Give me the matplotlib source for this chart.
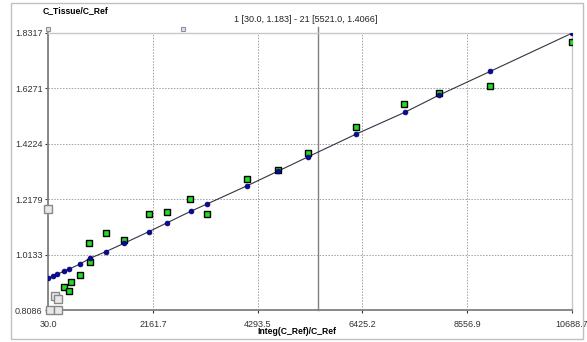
import matplotlib
matplotlib.use("Agg")
import matplotlib.pyplot as plt
from matplotlib.patches import Rectangle

plt.rcParams['font.family'] = ['Liberation Sans', 'DejaVu Sans']

# fitted curve values (blue dots, joined by the regression line)
fit_x = [30, 120, 213, 356, 458, 676, 879, 1199, 1572, 2075, 2441,
         2930, 3262, 4082, 4714, 5325, 6290, 7294, 7992, 9025, 10688.7]
fit_y = [0.9255, 0.9340, 0.9403, 0.9525, 0.9599, 0.9783, 0.9994, 1.0237,
         1.0547, 1.0975, 1.1296, 1.1728, 1.1997, 1.2672, 1.3214, 1.3742,
         1.4569, 1.5384, 1.6018, 1.6886, 1.8295]

# measured points used in the fit (green squares)
data_x = [356, 458, 492, 676, 865, 879, 1199, 1572, 2080, 2447, 2922,
          3256, 4082, 4714, 5325, 6290, 7280, 7992, 9025, 10688.7]
data_y = [0.8924, 0.8787, 0.9108, 0.9377, 1.0547, 0.9868, 1.0916, 1.0669,
          1.1639, 1.1713, 1.2192, 1.1628, 1.2908, 1.3251, 1.3867, 1.4827,
          1.5675, 1.6074, 1.6343, 1.7985]

# excluded points (grey squares)
excl_x = [30, 65, 166, 234, 234]
excl_y = [1.183, 0.8086, 0.8603, 0.8481, 0.8086]

x_ticks = [30.0, 2161.7, 4293.5, 6425.2, 8556.9, 10688.7]
y_ticks = [0.8086, 1.0133, 1.2179, 1.4224, 1.6271, 1.8317]

marker_x = 5521.0
handle_x = [30.0, 2767.0]
range_label = "1 [30.0, 1.183] - 21 [5521.0, 1.4066]"

W, H = 587, 342
fig = plt.figure(figsize=(W / 100, H / 100), dpi=100)
fig.patch.set_facecolor('white')

# outer frame
fig.patches.append(Rectangle((11 / W, 3 / H), 572 / W, 336 / H, transform=fig.transFigure,
                             fill=False, edgecolor='#c0c0c0', linewidth=1.0))

ax = fig.add_axes([48.3 / W, 1 - 310 / H, (571.7 - 48.3) / W, (310 - 32.7) / H])
ax.set_xlim(x_ticks[0], x_ticks[-1])
ax.set_ylim(y_ticks[0], y_ticks[-1])

ax.set_xticks(x_ticks)
ax.set_xticklabels([f"{v:.1f}" for v in x_ticks])
ax.set_yticks(y_ticks)
ax.set_yticklabels([f"{v:.4f}" for v in y_ticks])
ax.tick_params(axis='both', labelsize=6.5, colors='#333333', length=2, width=0.8)
ax.tick_params(axis='x', pad=5)
ax.tick_params(axis='y', pad=2)

ax.grid(True, linestyle=(0, (1.5, 1.5)), color='#a0a0a0', linewidth=0.7)
ax.set_axisbelow(True)

for side in ['top', 'right']:
    ax.spines[side].set_color('#c8c8c8')
    ax.spines[side].set_linewidth(1.0)
for side in ['left', 'bottom']:
    ax.spines[side].set_color('#808080')
    ax.spines[side].set_linewidth(1.3)

# range marker line
ax.plot([marker_x, marker_x], [y_ticks[0], y_ticks[-1] + 0.02], color='#808080',
        linewidth=1.0, clip_on=False, zorder=1)

# regression line + fitted values
ax.plot(fit_x, fit_y, color='#333344', linewidth=0.8, zorder=2)
ax.plot(fit_x, fit_y, linestyle='None', marker='o', markersize=3.5,
        markerfacecolor='#0a0a9a', markeredgecolor='#000066', markeredgewidth=0.5, zorder=4)

ax.plot(data_x, data_y, linestyle='None', marker='s', markersize=4.8,
        markerfacecolor='#22dd22', markeredgecolor='black', markeredgewidth=1.0,
        zorder=3)

ax.plot(excl_x, excl_y, linestyle='None', marker='s', markersize=6,
        markerfacecolor='#e8e8e8', markeredgecolor='#888888', markeredgewidth=1.0,
        zorder=3, clip_on=False)

# slider handles on top of the plot area
ax.plot(handle_x, [y_ticks[-1] + 0.012] * len(handle_x), linestyle='None', marker='s',
        markersize=3.5, markerfacecolor='#e0e0e8', markeredgecolor='#9090a0',
        markeredgewidth=0.8, clip_on=False, zorder=5)

fig.text(43 / W, 1 - 11 / H, "C_Tissue/C_Ref", fontsize=6.2, fontweight='bold',
         ha='left', va='center', color='black')
fig.text(306 / W, 1 - 19 / H, range_label, fontsize=6.5, ha='center', va='center',
         color='#222222')
fig.text(297 / W, 1 - 331.7 / H, "Integ(C_Ref)/C_Ref", fontsize=6.2, fontweight='bold',
         ha='center', va='center', color='black')

fig.savefig('out.png', dpi=100, facecolor='white')
